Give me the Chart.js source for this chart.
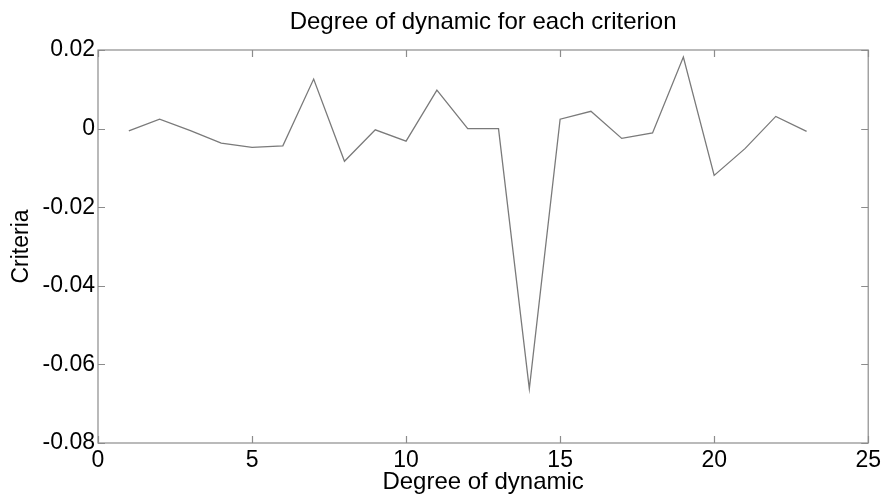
<!DOCTYPE html>
<html>
<head>
<meta charset="utf-8">
<script src="https://cdn.jsdelivr.net/npm/chart.js@4.4.1/dist/chart.umd.min.js"></script>
<style>
  html, body { margin: 0; padding: 0; background: #fff; }
  #wrap { width: 885px; height: 500px; }
</style>
</head>
<body>
<div id="wrap"><canvas id="myChart" width="885" height="500"></canvas></div>
<script>
// values
const degrees = [1, 2, 3, 4, 5, 6, 7, 8, 9, 10, 11, 12, 13, 14, 15, 16, 17, 18, 19, 20, 21, 22, 23];
const criteria = [-0.0006, 0.0024, -0.0005, -0.0037, -0.0048, -0.0044, 0.0126, -0.0083, -0.0003, -0.0032,
  0.0098, 0.0, 0.0, -0.0662, 0.0024, 0.0044, -0.0025, -0.0011, 0.0182, -0.0119, -0.0051, 0.0031, -0.0007];

const xTicks = [0, 5, 10, 15, 20, 25];
const yTicks = [0.02, 0, -0.02, -0.04, -0.06, -0.08];
const yTickLabels = ["0.02", "0", "-0.02", "-0.04", "-0.06", "-0.08"];

const FONT = "'Liberation Sans', Arial, Helvetica, sans-serif";
const boxColor = "#8c8c8c";

// matlab style box with ticks pointing inwards
const boxPlugin = {
  id: "box",
  afterDatasetsDraw(chart) {
    const ctx = chart.ctx;
    const a = chart.chartArea;
    const xs = chart.scales.x, ys = chart.scales.y;
    const len = 7;
    ctx.save();
    ctx.strokeStyle = boxColor;
    ctx.lineWidth = 1.2;
    ctx.strokeRect(a.left, a.top, a.right - a.left, a.bottom - a.top);
    ctx.beginPath();
    xs.ticks.forEach(t => {
      const px = Math.round(xs.getPixelForValue(t.value)) + 0.5;
      ctx.moveTo(px, a.bottom); ctx.lineTo(px, a.bottom - len);
      ctx.moveTo(px, a.top); ctx.lineTo(px, a.top + len);
    });
    ys.ticks.forEach(t => {
      const py = Math.round(ys.getPixelForValue(t.value)) + 0.5;
      ctx.moveTo(a.left, py); ctx.lineTo(a.left + len, py);
      ctx.moveTo(a.right, py); ctx.lineTo(a.right - len, py);
    });
    ctx.stroke();
    ctx.restore();
  }
};

const ctx = document.getElementById("myChart").getContext("2d");
new Chart(ctx, {
  type: "line",
  data: {
    datasets: [{
      data: degrees.map((d, i) => ({ x: d, y: criteria[i] })),
      borderColor: "#7a7a7a",
      borderWidth: 1.3,
      pointRadius: 0,
      tension: 0,
      fill: false
    }]
  },
  options: {
    responsive: false,
    animation: false,
    layout: { padding: { left: 0, right: 15, top: 0, bottom: 0 } },
    plugins: {
      legend: { display: false },
      tooltip: { enabled: false },
      title: {
        display: true,
        fullSize: false,
        text: "Degree of dynamic for each criterion",
        color: "#000",
        font: { family: FONT, size: 24, weight: "normal" },
        padding: { top: 8, bottom: 13.2 }
      }
    },
    scales: {
      x: {
        type: "linear",
        min: 0,
        max: 25,
        afterBuildTicks: s => { s.ticks = xTicks.map(v => ({ value: v })); },
        afterFit: s => { s.height = 57; },
        grid: { display: false, drawTicks: false },
        border: { display: false },
        ticks: {
          color: "#000",
          padding: 4,
          font: { family: FONT, size: 23 },
          callback: v => String(v)
        },
        title: {
          display: true,
          text: "Degree of dynamic",
          color: "#000",
          font: { family: FONT, size: 24 },
          padding: { top: 0, bottom: 3 }
        }
      },
      y: {
        type: "linear",
        min: -0.08,
        max: 0.02,
        afterBuildTicks: s => { s.ticks = yTicks.map(v => ({ value: v })); },
        afterFit: s => { s.width = 98; },
        grid: { display: false, drawTicks: false },
        border: { display: false },
        ticks: {
          color: "#000",
          padding: 3,
          font: { family: FONT, size: 23 },
          callback: (v, i) => yTickLabels[yTicks.indexOf(v)] ?? String(v)
        },
        title: {
          display: true,
          text: "Criteria",
          color: "#000",
          font: { family: FONT, size: 23 },
          padding: { top: 8, bottom: 0 }
        }
      }
    }
  },
  plugins: [boxPlugin]
});
</script>
</body>
</html>
